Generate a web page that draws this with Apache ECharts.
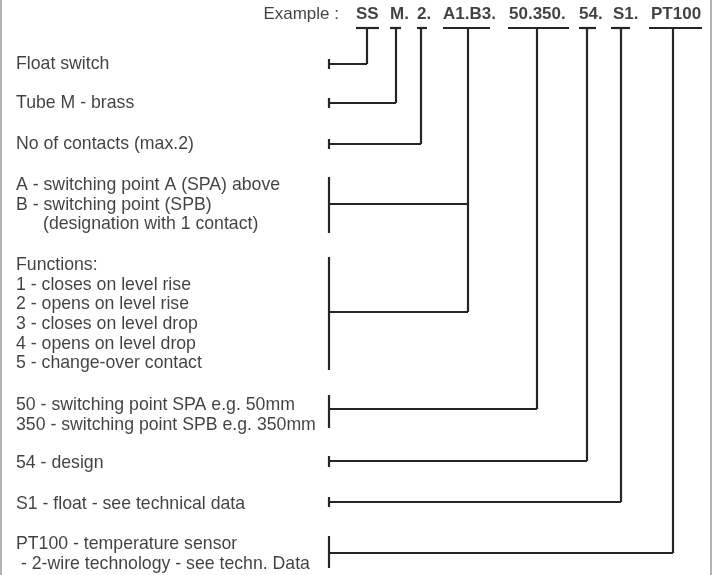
<!DOCTYPE html>
<html>
<head>
<meta charset="utf-8">
<script src="https://cdn.jsdelivr.net/npm/echarts@6/dist/echarts.min.js"></script>
<style>
html,body{margin:0;padding:0;background:#fff;}
#c{width:720px;height:575px;}
</style>
</head>
<body>
<div id="c"></div>
<script>
// ---- content ----
const headerLabel = 'Example :';
const codes = ['SS', 'M.', '2.', 'A1.B3.', '50.350.', '54.', 'S1.', 'PT100'];
const descriptions = [
  ['Float switch'],
  ['Tube M - brass'],
  ['No of contacts (max.2)'],
  ['A - switching point A (SPA) above', 'B - switching point (SPB)', '(designation with 1 contact)'],
  ['Functions:', '1 - closes on level rise', '2 - opens on level rise', '3 - closes on level drop', '4 - opens on level drop', '5 - change-over contact'],
  ['50 - switching point SPA e.g. 50mm', '350 - switching point SPB e.g. 350mm'],
  ['54 - design'],
  ['S1 - float - see technical data'],
  ['PT100 - temperature sensor', ' - 2-wire technology - see techn. Data']
];
// which code each description row belongs to
const rowToCode = [0, 1, 2, 3, 3, 4, 5, 6, 7];

// ---- layout (diagram coordinates) ----
const L = {
  headerY: 14, headerLabelRightX: 339,
  codeX: [356, 390, 417, 443, 509, 579, 613, 651],
  barY: 28,
  barSpan: [[356, 379], [390, 401], [417, 427], [443, 490], [508, 569], [579, 596], [611, 630], [649, 702]],
  stemX: [367, 396, 421, 468, 537, 587, 621, 673],
  tickX: 329,
  rowLineY: [64, 103, 144, 204, 312, 409, 461, 502, 553],
  rowBracket: [[59, 69], [98, 108], [139, 149], [177, 233], [257, 370], [395, 428], [456, 467], [497, 507], [536, 568]],
  textX: 16,
  textIndent: { '3-2': 43 },
  textY: [[64], [103], [144], [185, 205, 224], [265, 285, 304, 324, 344, 363], [405, 425], [463], [504], [544, 564]],
  borderX: [1, 711]
};

const FONT = '"Liberation Sans", Arial, Helvetica, sans-serif';
const LINE = '#262626';
const series = [];

function path(points, color, width) {
  series.push({
    type: 'line', data: points, symbol: 'none', silent: true, animation: false,
    lineStyle: { color: color || LINE, width: width || 2.2, cap: 'butt', join: 'miter' }
  });
}
function label(x, y, text, opts) {
  opts = opts || {};
  series.push({
    type: 'scatter', symbolSize: 0, silent: true, animation: false,
    data: [[x, y]],
    label: {
      show: true, position: opts.left ? 'left' : 'right', distance: 0, formatter: () => text,
      color: '#111', fontFamily: FONT, fontSize: opts.size || 17.7, fontWeight: opts.bold ? 'bold' : 'normal'
    }
  });
}

// borders
L.borderX.forEach(x => path([[x, 0], [x, 575]], '#8a8a8a', 1.3));

// header
label(L.headerLabelRightX, L.headerY, headerLabel, { left: true, size: 17 });
codes.forEach((c, i) => {
  label(L.codeX[i], L.headerY, c, { bold: true, size: 17 });
  path([[L.barSpan[i][0], L.barY], [L.barSpan[i][1], L.barY]]);
});

// stems: each code's stem goes down to the lowest row assigned to it
codes.forEach((c, i) => {
  let maxY = 0;
  rowToCode.forEach((ci, r) => { if (ci === i) maxY = Math.max(maxY, L.rowLineY[r]); });
  path([[L.stemX[i], L.barY], [L.stemX[i], maxY]]);
});

// rows
descriptions.forEach((lines, r) => {
  const ci = rowToCode[r];
  path([[L.stemX[ci], L.rowLineY[r]], [L.tickX, L.rowLineY[r]]]);
  path([[L.tickX, L.rowBracket[r][0]], [L.tickX, L.rowBracket[r][1]]]);
  lines.forEach((t, k) => {
    const x = L.textIndent[r + '-' + k] || L.textX;
    label(x, L.textY[r][k], t);
  });
});

const chart = echarts.init(document.getElementById('c'), null, { renderer: 'canvas' });
chart.setOption({
  animation: false,
  grid: { left: 0, right: 0, top: 0, bottom: 0 },
  xAxis: { type: 'value', min: 0, max: 720, show: false },
  yAxis: { type: 'value', min: 0, max: 575, inverse: true, show: false },
  series: series
});
</script>
</body>
</html>
